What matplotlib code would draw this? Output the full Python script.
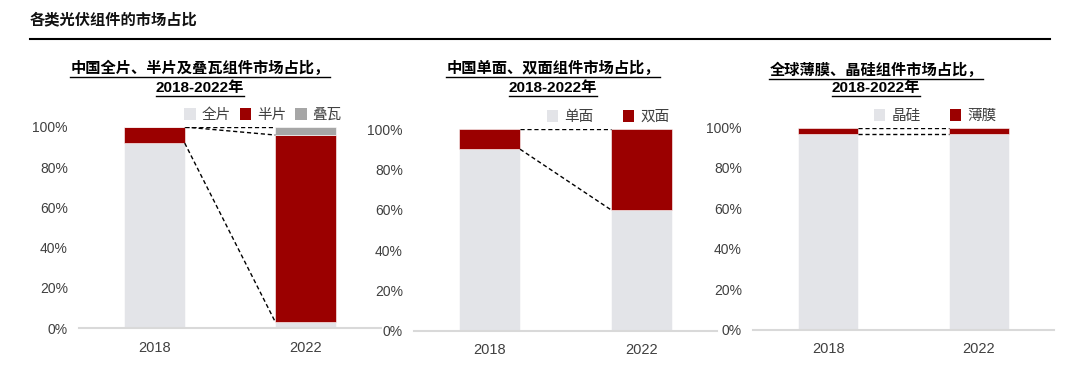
import numpy as np
import matplotlib.pyplot as plt
from matplotlib.patches import Patch
from matplotlib.lines import Line2D

plt.rcParams["font.family"] = ["Liberation Sans", "Noto Sans CJK SC", "DejaVu Sans"]

years = ["2018", "2022"]

# chart 1: China full / half-cut / shingled modules (%)
c1_labels = ["全片", "半片", "叠瓦"]
c1_full = [92, 3]
c1_half = [8, 93]
c1_shingled = [0, 4]

# chart 2: China monofacial / bifacial (%)
c2_labels = ["单面", "双面"]
c2_mono = [90, 60]
c2_bi = [10, 40]

# chart 3: global crystalline silicon / thin film (%)
c3_labels = ["晶硅", "薄膜"]
c3_csi = [97, 97]
c3_thin = [3, 3]

titles = [
    "中国全片、半片及叠瓦组件市场占比，\n2018-2022年",
    "中国单面、双面组件市场占比，\n2018-2022年",
    "全球薄膜、晶硅组件市场占比，\n2018-2022年",
]

LIGHT = "#E3E4E8"
RED = "#9B0000"
GRAY = "#A6A6A6"
TXT = "#404040"

W, H = 1080, 368
fig = plt.figure(figsize=(W / 100, H / 100), dpi=100)


def px_rect(x0, x1, ytop, ybot):
    return [x0 / W, 1 - ybot / H, (x1 - x0) / W, (ybot - ytop) / H]


axes = [
    fig.add_axes(px_rect(79, 381, 127, 328)),
    fig.add_axes(px_rect(414, 717, 129, 331)),
    fig.add_axes(px_rect(753, 1054, 127.5, 329.5)),
]

series = [
    (c1_labels, [c1_full, c1_half, c1_shingled], [LIGHT, RED, GRAY]),
    (c2_labels, [c2_mono, c2_bi], [LIGHT, RED]),
    (c3_labels, [c3_csi, c3_thin], [LIGHT, RED]),
]

bw = 0.4
x = np.arange(len(years))
for ax, (labels, data, colors) in zip(axes, series):
    bottom = np.zeros(len(years))
    for vals, col in zip(data, colors):
        v = np.array(vals) / 100
        ax.bar(x, v, bw, bottom=bottom, color=col, edgecolor="white", linewidth=0.4)
        top = bottom + v
        # series line connecting cumulative tops
        ax.plot([x[0] + bw / 2, x[1] - bw / 2], [top[0], top[1]],
                color="black", lw=1, ls=(0, (3, 2)), zorder=3)
        bottom = top
    ax.set_xlim(-0.5, 1.5)
    ax.set_ylim(0, 1.0)
    ax.set_yticks(np.linspace(0, 1, 6))
    ax.set_yticklabels([f"{int(round(t * 100))}%" for t in np.linspace(0, 1, 6)])
    ax.set_xticks(x)
    ax.set_xticklabels(years)
    for s in ["top", "right", "left"]:
        ax.spines[s].set_visible(False)
    ax.spines["bottom"].set_color("#D9D9D9")
    ax.spines["bottom"].set_linewidth(1.5)
    ax.tick_params(axis="y", length=0, pad=8, labelsize=10, labelcolor=TXT)
    ax.tick_params(axis="x", length=0, pad=9, labelsize=10.5, labelcolor=TXT)
    ax.patch.set_alpha(0)

# legends
leg_pos = [(263, 115), (608, 117), (935, 116)]
leg_gap = [0.6, 2.0, 2.0]
for (labels, data, colors), (lx, ly), gap in zip(series, leg_pos, leg_gap):
    handles = [Patch(facecolor=c, edgecolor="none") for c in colors]
    fig.legend(handles, labels, loc="center", bbox_to_anchor=(lx / W, 1 - ly / H),
               ncol=len(labels), frameon=False, fontsize=10.5, handlelength=0.8,
               handleheight=0.8, handletextpad=0.4, columnspacing=gap,
               labelcolor=TXT, borderpad=0)

# header
fig.text(30 / W, 1 - 20 / H, "各类光伏组件的市场占比", fontsize=11,
         fontweight="bold", va="center", ha="left", color="#111111")
fig.add_artist(Line2D([30 / W, 1050 / W], [1 - 39 / H, 1 - 39 / H],
                      color="black", lw=1.5))

# subtitles, underlined line by line
sub_x = [200, 553, 876]
sub_y = [(68, 88), (68, 88), (70, 88)]
sub_texts = []
for t, sx, (y1, y2) in zip(titles, sub_x, sub_y):
    for line, yy in zip(t.split("\n"), (y1, y2)):
        tx = fig.text(sx / W, 1 - yy / H, line, fontsize=11, fontweight="bold",
                      ha="center", va="center", color="black")
        sub_texts.append(tx)

fig.canvas.draw()
r = fig.canvas.get_renderer()
for tx in sub_texts:
    bb = tx.get_window_extent(r)
    yline = bb.y0 - 1
    fig.add_artist(Line2D([bb.x0 / W, bb.x1 / W], [yline / H, yline / H],
                          color="black", lw=1))

fig.savefig("out.png", dpi=100)
